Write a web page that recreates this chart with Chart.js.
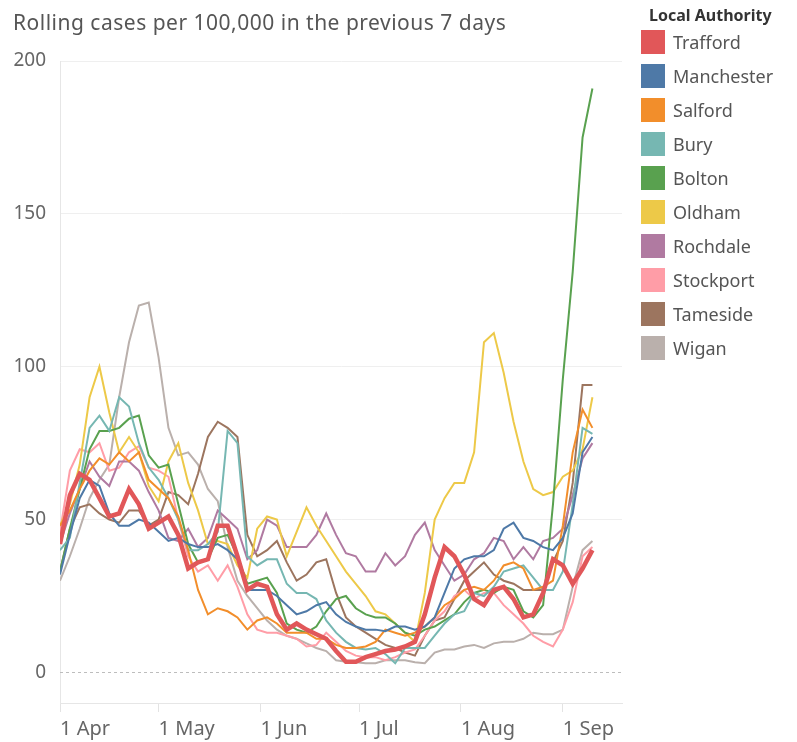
<!DOCTYPE html>
<html>
<head>
<meta charset="utf-8">
<script src="https://cdn.jsdelivr.net/npm/chart.js@4/dist/chart.umd.min.js"></script>
<style>
  html, body { margin: 0; padding: 0; background: #fff; }
  #wrap { position: relative; width: 797px; height: 742px; overflow: hidden; }
  #chart { position: absolute; left: 0; top: 0; }
  #title { position: absolute; left: 13px; top: 8px; font-family: "Noto Sans", sans-serif; font-size: 21px; letter-spacing: 0.5px; color: #555; white-space: nowrap; }
  #legend { position: absolute; left: 641px; top: 0; font-family: "Noto Sans", sans-serif; }
  #legend .lt { position: absolute; left: 8px; top: 4px; font-size: 16px; font-weight: bold; color: #333; white-space: nowrap; }
  #legend .it { position: absolute; left: 0; height: 24px; white-space: nowrap; }
  #legend .sw { position: absolute; left: 0; top: 0; width: 24px; height: 24px; }
  #legend .tx { position: absolute; left: 32px; top: 0; line-height: 24px; font-size: 18px; color: #555; }
</style>
</head>
<body>
<div id="wrap">
  <canvas id="chart" width="797" height="742"></canvas>
  <div id="title">Rolling cases per 100,000 in the previous 7 days</div>
  <div id="legend"></div>
</div>
<script>
// Days since 1 April (x positions of readings)
const days = [0,3,6,9,12,15,18,21,24,27,30,33,36,39,42,45,48,51,54,57,60,63,66,69,72,75,78,81,84,87,90,93,96,99,102,105,108,111,114,117,120,123,126,129,132,135,138,141,144,147,150,153,156,159,162];

const tickDays = [0, 30, 61, 91, 122, 153];
const tickLabels = ['1 Apr', '1 May', '1 Jun', '1 Jul', '1 Aug', '1 Sep'];
const yTicks = [0, 50, 100, 150, 200];

const authorities = ['Trafford','Manchester','Salford','Bury','Bolton','Oldham','Rochdale','Stockport','Tameside','Wigan'];

const trafford   = [42,58,65,63,57,51,52,60,55,47,49,51,45,34,36,37,48,48,38,27,29,28,19,14,16,14,12.5,11,7,3.5,3.5,5,6,7,7.5,8.5,10,19,31,41,38,32,24,22,27,28,24,18,19,26,37,35,29,34,40];
const manchester = [32,45,57,63,61,52,48,48,50,49,46,43,44,42,41,41,42,40,37,27,27,27,25,22,19,20,22,23,19,16.5,15,14,14,13.5,15,15,14,15,18,26,34,37,38,38,40,47,49,44,43,41,40,44,52,72,77];
const salford    = [48,53,60,66,70,68,72,69,72,63,60,57,51,40,27,19,21,20,18,14,17,18,16,13,13,13,11,11,9,8,8,8.5,10,14,13,12,13,15,18,22,24,27,28,27,30,35,36,34,27,28,30,48,72,86,80];
const bury       = [40,44,62,80,84,79,90,87,75,67,63,57,50,40,40,42,46,79,75,38,35,37,37,29,26,26,24,17,13,10,8,7.5,8,6,3,8,8,8,12,16,19,20,26,25,28,33,34,35,31,27,27,33,55,80,78];
const bolton     = [33,47,60,73,79,79,80,83,84,71,67,68,55,42,36,37,44,45,38,29,30,31,26,16,14,13,15,20,24,25,21,19,18,18,16,13,12,14,15,17,19,23,26,27,26,28,27,20,18,22,55,96,131,175,191];
const oldham     = [48,55,68,90,100,85,72,77,72,61,56,69,75,62,53,42,43,42,35,31,47,51,50,38,46,54,48,43,38,33,29,25,20,19,16,13,10,26,50,57,62,62,72,108,111,98,82,69,60,58,59,64,66,73,90];
const rochdale   = [42,52,60,69,64,61,69,69,66,59,53,44,43,47,41,44,53,50,47,37,40,50,48,41,41,41,45,52,45,39,38,33,33,39,35,38,45,49,40,35,30,32,37,39,44,43,37,41,37,43,44,47,58,70,75];
const stockport  = [46,66,73,72,75,66,67,72,74,67,66,64,50,38,33,35,30,35,28,19,14,13,13,12,11,8.5,9,13,10,7,5.5,5,5,4,5,6.5,7.5,12,17,20,25,27,24,26,26,22,19,16,12,10,8.5,14,23,38,41];
const tameside   = [33,47,54,55,52,50,49,53,53,48,50,59,58,55,65,77,82,80,77,45,38,40,43,36,30,32,36,37,26,18,15,13,11,9,8,6.5,5.5,12,17,18,24,30,33,36,32,30,29,27,27,27,36,43,62,94,94];
const wigan      = [30,38,47,57,63,68,90,108,120,121,103,80,71,72,68,60,56,41,30,25,21,17,14,12,11,9.5,8,7,4,3.5,3.3,3,3,4,4,4,3.3,3,6.5,7.5,7.5,8.5,9,8,9.5,10,10,11,13,12.5,12.5,14,28,40,43];

const seriesValues = [trafford, manchester, salford, bury, bolton, oldham, rochdale, stockport, tameside, wigan];
const colors = ['#e15759','#4e79a7','#f28e2b','#76b7b2','#59a14f','#edc948','#b07aa1','#ff9da7','#9c755f','#bab0ac'];

const FONT = '"Noto Sans", sans-serif';

// HTML legend
const legend = document.getElementById('legend');
const lt = document.createElement('div');
lt.className = 'lt'; lt.textContent = 'Local Authority';
legend.appendChild(lt);
authorities.forEach((name, i) => {
  const it = document.createElement('div');
  it.className = 'it';
  it.style.top = (30 + 34 * i) + 'px';
  const sw = document.createElement('div');
  sw.className = 'sw'; sw.style.background = colors[i];
  const tx = document.createElement('div');
  tx.className = 'tx'; tx.textContent = name;
  it.appendChild(sw); it.appendChild(tx);
  legend.appendChild(it);
});

const zeroLine = {
  id: 'zeroLine',
  beforeDatasetsDraw(chart) {
    const { ctx, chartArea: a, scales: { y } } = chart;
    const py = Math.round(y.getPixelForValue(0)) + 0.5;
    ctx.save();
    ctx.strokeStyle = '#bdbdbd';
    ctx.lineWidth = 1;
    ctx.setLineDash([3, 3]);
    ctx.beginPath();
    ctx.moveTo(a.left, py);
    ctx.lineTo(a.right, py);
    ctx.stroke();
    ctx.restore();
  }
};

const datasets = authorities.map((name, i) => ({
  label: name,
  data: days.map((d, j) => ({ x: d, y: seriesValues[i][j] })),
  borderColor: colors[i],
  backgroundColor: colors[i],
  borderWidth: i === 0 ? 4.5 : 2,
  pointRadius: 0,
  tension: 0,
  fill: false
}));

new Chart(document.getElementById('chart'), {
  type: 'line',
  data: { datasets },
  plugins: [zeroLine],
  options: {
    responsive: false,
    animation: false,
    devicePixelRatio: 1,
    layout: { padding: { top: 61, right: 175, bottom: 0, left: 0 } },
    plugins: { legend: { display: false }, title: { display: false }, tooltip: { enabled: false } },
    scales: {
      x: {
        type: 'linear',
        min: 0, max: 171,
        afterBuildTicks: s => { s.ticks = tickDays.map(v => ({ value: v })); },
        afterFit: s => { s.height = 39; },
        grid: { drawOnChartArea: false, drawTicks: true, tickLength: 9, tickColor: '#e3e3e3', color: '#e3e3e3' },
        border: { display: true, color: '#e6e6e6' },
        ticks: {
          align: 'start', padding: 5, maxRotation: 0, minRotation: 0, autoSkip: false,
          color: '#666', font: { family: FONT, size: 20 },
          callback: (v, i) => tickLabels[i]
        }
      },
      y: {
        min: -10, max: 200,
        afterBuildTicks: s => { s.ticks = yTicks.map(v => ({ value: v })); },
        afterFit: s => { s.width = 60; },
        grid: { drawTicks: false, color: c => (c.tick && c.tick.value === 0) ? 'rgba(0,0,0,0)' : '#efefef' },
        border: { display: true, color: '#e6e6e6' },
        ticks: { padding: 14, color: '#666', font: { family: FONT, size: 19 } }
      }
    }
  }
});
</script>
</body>
</html>
